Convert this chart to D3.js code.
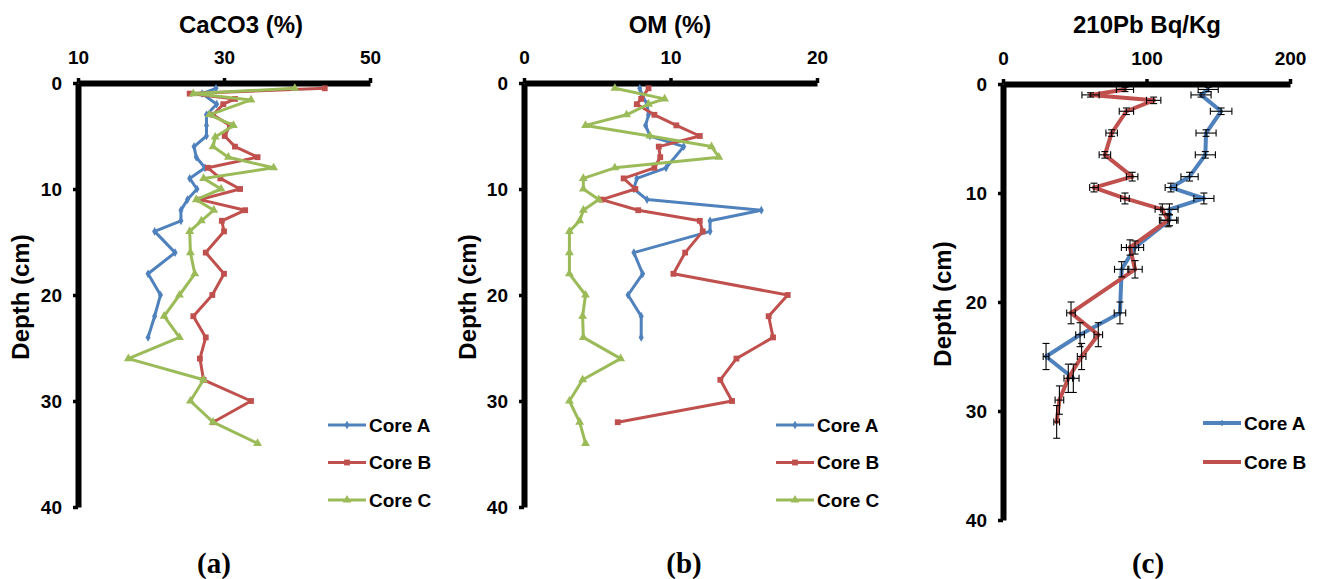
<!DOCTYPE html>
<html>
<head>
<meta charset="utf-8">
<script src="https://cdn.jsdelivr.net/npm/d3@7"></script>
<style>
  body { margin: 0; background: #fff; }
  svg { display: block; }
</style>
</head>
<body>
<div id="chart"></div>
<script>
// ---- panel (a) CaCO3 ----
const caDepthA = [0.5, 1, 2, 3, 4, 5, 6, 7, 8, 9, 10, 11, 12, 13, 14, 16, 18, 20, 22, 24];
const caA      = [28.9, 27, 29.0, 27.6, 27.6, 27.6, 25.9, 26.2, 27.4, 25.3, 26.3, 25.0, 24.1, 24.1, 20.5, 23.3, 19.6, 21.3, 20.5, 19.6];
const caDepthB = [0.5, 1, 1.5, 2, 3, 4, 5, 6, 7, 8, 9, 10, 11, 12, 13, 14, 16, 18, 20, 22, 24, 26, 28, 30, 32];
const caB      = [43.8, 25.3, 31.5, 29.9, 28.5, 30.8, 30.1, 31.5, 34.6, 27.8, 29.5, 32.2, 26.7, 32.9, 29.7, 30.0, 27.5, 30.0, 28.4, 25.8, 27.5, 26.7, 27.2, 33.7, 28.5];
const caDepthC = [0.5, 1, 1.6, 3, 4, 5.1, 6, 7, 8, 9, 10, 11, 12, 13, 14, 16, 18, 20, 22, 24, 26, 28, 30, 32, 34];
const caC      = [39.7, 25.8, 33.7, 28.0, 31.3, 28.8, 28.5, 30.6, 36.8, 27.2, 29.6, 26.2, 28.6, 26.9, 25.3, 25.4, 26.0, 23.9, 21.8, 23.9, 16.9, 27.2, 25.4, 28.5, 34.6];

// ---- panel (b) OM ----
const omDepthA = [0.5, 1, 2, 3, 4, 5, 6, 8, 9, 10, 11, 12, 13, 14, 16, 18, 20, 22, 24];
const omA      = [7.9, 8.0, 8.4, 8.5, 8.3, 8.6, 10.9, 9.7, 7.7, 7.5, 8.4, 16.2, 12.7, 12.7, 7.5, 8.1, 7.1, 8.0, 8.0];
const omDepthB = [0.5, 1.5, 2, 3, 4, 5, 6, 7, 8, 9, 10, 11, 12, 13, 14, 16, 18, 20, 22, 24, 26, 28, 30, 32];
const omB      = [8.5, 8.0, 7.7, 8.9, 10.4, 12.0, 9.2, 9.3, 8.9, 6.8, 7.6, 5.3, 7.8, 12.0, 12.2, 11.0, 10.2, 18.0, 16.7, 17.0, 14.5, 13.4, 14.2, 6.4];
const omDepthC = [0.5, 1.5, 2, 3, 4, 5, 6, 7, 8, 9, 10, 11, 12, 13, 14, 16, 18, 20, 22, 24, 26, 28, 30, 32, 34];
const omC      = [6.2, 9.6, 8.5, 7.0, 4.2, 8.6, 12.8, 13.3, 6.2, 4.05, 4.05, 5.1, 4.05, 3.8, 3.1, 3.1, 3.1, 4.2, 4.0, 4.05, 6.6, 4.0, 3.1, 3.8, 4.2];

// ---- panel (c) 210Pb ----
const pbDepthA = [0.5, 1, 2.5, 4.5, 6.5, 8.5, 9.5, 10.5, 11.5, 12.5, 15, 17, 21, 23, 25, 27];
const pbA      = [143, 138, 152, 141.5, 141, 130, 117, 140, 116, 116, 92, 82.7, 81.5, 53.7, 30, 49];
const pbXErrA  = [7, 7, 7.5, 7, 7, 6, 4, 7, 6, 6, 6, 5, 4, 3, 2, 4];
const pbYErrA  = [0.2, 0.2, 0.3, 0.3, 0.3, 0.4, 0.4, 0.5, 0.5, 0.5, 0.6, 0.7, 1.0, 1.1, 1.2, 1.3];
const pbDepthB = [0.5, 1, 1.5, 2.5, 4.5, 6.5, 8.5, 9.5, 10.5, 11.5, 12.5, 15, 17, 21, 23, 25, 27, 29, 31];
const pbB      = [85, 61, 105, 86, 75.7, 71, 90, 63.4, 85, 111, 115, 88.5, 92, 47.4, 66.4, 54.8, 45.5, 39.3, 37.4];
const pbXErrB  = [6, 6, 5, 5, 4, 4, 4, 3, 3, 5, 6, 6, 5, 3, 3, 3, 3, 3, 2];
const pbYErrB  = [0.2, 0.2, 0.3, 0.3, 0.3, 0.3, 0.4, 0.4, 0.5, 0.5, 0.6, 0.7, 0.8, 1.0, 1.1, 1.2, 1.3, 1.3, 1.5];

const depthTicks = [0, 10, 20, 30, 40];
const seriesNames = ["Core A", "Core B", "Core C"];
const colors = ["#4F81BD", "#C0504D", "#9BBB59"];
const symbols = [d3.symbolDiamond, d3.symbolSquare, d3.symbolTriangle];

const FONT = "'Liberation Sans', Arial, sans-serif";

let svg = d3.select("#chart").append("svg")
    .attr("width", 1320)
    .attr("height", 579);

function zip(depths, vals, xe, ye) {
    return depths.map((d, i) => ({ d: d, v: vals[i], xe: xe ? xe[i] : 0, ye: ye ? ye[i] : 0 }));
}

let panels = [
    {
        title: "CaCO3 (%)", titleX: 241, letter: "(a)", letterX: 214,
        xDomain: [10, 50], xRange: [78, 370], yRange: [83, 507], xTicks: [10, 30, 50],
        depthLabelX: 23, lineWidth: 3,
        series: [zip(caDepthA, caA), zip(caDepthB, caB), zip(caDepthC, caC)],
        legend: { x: 328, y: 425, gap: 37.5 }
    },
    {
        title: "OM (%)", titleX: 670, letter: "(b)", letterX: 684,
        xDomain: [0, 20], xRange: [524, 817], yRange: [83, 507], xTicks: [0, 10, 20],
        depthLabelX: 470, lineWidth: 3,
        series: [zip(omDepthA, omA), zip(omDepthB, omB), zip(omDepthC, omC)],
        legend: { x: 776, y: 425, gap: 37.5 }
    },
    {
        title: "210Pb Bq/Kg", titleX: 1147, letter: "(c)", letterX: 1148,
        xDomain: [0, 200], xRange: [1003, 1290], yRange: [84, 520], xTicks: [0, 100, 200],
        depthLabelX: 945, lineWidth: 4, errors: true,
        series: [zip(pbDepthA, pbA, pbXErrA, pbYErrA), zip(pbDepthB, pbB, pbXErrB, pbYErrB)],
        legend: { x: 1203, y: 423, gap: 39 }
    }
];

panels.forEach(drawPanel);

function drawPanel(p) {
    let x = d3.scaleLinear().domain(p.xDomain).range(p.xRange);
    let y = d3.scaleLinear().domain([0, 40]).range(p.yRange);
    let g = svg.append("g");

    // title
    g.append("text")
        .attr("x", p.titleX).attr("y", 33)
        .attr("text-anchor", "middle")
        .attr("font-family", FONT).attr("font-weight", "bold").attr("font-size", 24)
        .text(p.title);

    // top axis
    let xAxis = g.append("g")
        .attr("transform", `translate(0,${p.yRange[0]})`)
        .call(d3.axisTop(x).tickValues(p.xTicks).tickSize(5).tickSizeOuter(0).tickPadding(14));
    // left axis
    let yAxis = g.append("g")
        .attr("transform", `translate(${p.xRange[0]},0)`)
        .call(d3.axisLeft(y).tickValues(depthTicks).tickSize(5).tickSizeOuter(0).tickPadding(11));

    [xAxis, yAxis].forEach(ax => {
        ax.select(".domain").attr("stroke", "#000").attr("stroke-width", 6);
        ax.selectAll(".tick line").attr("stroke", "#000").attr("stroke-width", 3.5);
        ax.selectAll(".tick text")
            .attr("font-family", FONT).attr("font-weight", "bold").attr("font-size", 19)
            .attr("fill", "#000");
    });
    yAxis.selectAll(".tick text").attr("dy", "0.36em");

    // depth label
    g.append("text")
        .attr("transform", `translate(${p.depthLabelX},${(p.yRange[0] + p.yRange[1]) / 2 + 2}) rotate(-90)`)
        .attr("text-anchor", "middle")
        .attr("dominant-baseline", "middle")
        .attr("font-family", FONT).attr("font-weight", "bold").attr("font-size", 24)
        .text("Depth (cm)");

    // lines
    let line = d3.line().x(d => x(d.v)).y(d => y(d.d));
    p.series.forEach((s, i) => {
        g.append("path")
            .datum(s)
            .attr("fill", "none")
            .attr("stroke", colors[i])
            .attr("stroke-width", p.lineWidth)
            .attr("stroke-linejoin", "round")
            .attr("d", line);

        let size = p.errors ? 14 : (i === 0 ? 22 : 34);
        g.append("g").selectAll("path")
            .data(s)
            .join("path")
            .attr("transform", d => `translate(${x(d.v)},${y(d.d)})`)
            .attr("d", d3.symbol().type(symbols[i]).size(size))
            .attr("fill", colors[i]);
    });

    // error bars
    if (p.errors) {
        let eg = g.append("g").attr("stroke", "#000").attr("stroke-width", 1.1);
        p.series.forEach(s => {
            s.forEach(d => {
                let cx = x(d.v), cy = y(d.d);
                let x0 = x(d.v - d.xe), x1 = x(d.v + d.xe);
                let y0 = y(d.d - d.ye), y1 = y(d.d + d.ye);
                eg.append("line").attr("x1", x0).attr("x2", x1).attr("y1", cy).attr("y2", cy);
                eg.append("line").attr("x1", x0).attr("x2", x0).attr("y1", cy - 3.5).attr("y2", cy + 3.5);
                eg.append("line").attr("x1", x1).attr("x2", x1).attr("y1", cy - 3.5).attr("y2", cy + 3.5);
                eg.append("line").attr("x1", cx).attr("x2", cx).attr("y1", y0).attr("y2", y1);
                eg.append("line").attr("x1", cx - 3.5).attr("x2", cx + 3.5).attr("y1", y0).attr("y2", y0);
                eg.append("line").attr("x1", cx - 3.5).attr("x2", cx + 3.5).attr("y1", y1).attr("y2", y1);
            });
        });
    }

    // legend
    p.series.forEach((s, i) => {
        let ly = p.legend.y + i * p.legend.gap;
        let lg = g.append("g");
        lg.append("line")
            .attr("x1", p.legend.x).attr("x2", p.legend.x + 38)
            .attr("y1", ly).attr("y2", ly)
            .attr("stroke", colors[i]).attr("stroke-width", p.lineWidth);
        lg.append("path")
            .attr("transform", `translate(${p.legend.x + 19},${ly})`)
            .attr("d", d3.symbol().type(symbols[i]).size(p.errors ? 14 : (i === 0 ? 22 : 34)))
            .attr("fill", colors[i]);
        lg.append("text")
            .attr("x", p.legend.x + 41).attr("y", ly)
            .attr("dy", "0.36em")
            .attr("font-family", FONT).attr("font-weight", "bold").attr("font-size", 19)
            .text(seriesNames[i]);
    });

    // panel letter
    g.append("text")
        .attr("x", p.letterX).attr("y", 573)
        .attr("text-anchor", "middle")
        .attr("font-family", "'Liberation Serif', 'Times New Roman', serif")
        .attr("font-weight", "bold").attr("font-size", 29)
        .text(p.letter);
}
</script>
</body>
</html>
